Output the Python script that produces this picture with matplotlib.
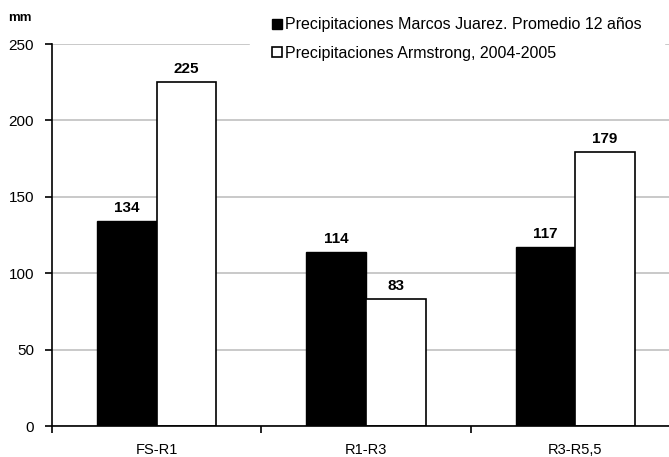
import numpy as np
import matplotlib
matplotlib.use("Agg")
import matplotlib.pyplot as plt
from matplotlib.patches import Patch

# datos
etapas = ["FS-R1", "R1-R3", "R3-R5,5"]
marcos_juarez = [134, 114, 117]
armstrong = [225, 83, 179]
serie_labels = ["Precipitaciones Marcos Juarez. Promedio 12 años",
                "Precipitaciones Armstrong, 2004-2005"]

plt.rcParams['font.family'] = ['Liberation Sans', 'DejaVu Sans']
plt.rcParams['font.size'] = 11

fig = plt.figure(figsize=(6.69, 4.57), dpi=100)
ax = fig.add_axes([52/669, 31/457, (680-52)/669, (426-44)/457])

x = np.arange(len(etapas))
w = 0.285
b1 = ax.bar(x - w/2, marcos_juarez, w, color="black", edgecolor="black", linewidth=1.0, zorder=3)
b2 = ax.bar(x + w/2, armstrong, w, color="white", edgecolor="black", linewidth=1.2, zorder=3)

for rects, vals in [(b1, marcos_juarez), (b2, armstrong)]:
    for r, v in zip(rects, vals):
        ax.text(r.get_x() + r.get_width()/2, v + 4, str(v), ha="center", va="bottom",
                fontweight="bold", fontsize=11)

ax.set_xlim(-0.5, 2.5)
ax.set_ylim(0, 250)
ax.set_yticks(np.arange(0, 251, 50))
ax.yaxis.grid(True, color="#c0c0c0", linewidth=1.2, zorder=0)
ax.set_axisbelow(True)

ax.set_xticks(x)
ax.set_xticklabels(etapas, fontsize=10.5)
ax.tick_params(axis="x", which="major", length=0, pad=12)
ax.set_xticks([-0.5, 0.5, 1.5, 2.5], minor=True)
ax.tick_params(axis="x", which="minor", length=5, width=1.2, direction="out")
ax.tick_params(axis="y", length=5, width=1.2, direction="out", pad=8)

for s in ["top", "right"]:
    ax.spines[s].set_visible(False)
ax.spines["left"].set_linewidth(1.2)
ax.spines["bottom"].set_linewidth(1.2)
ax.spines["bottom"].set_zorder(4)

fig.text(8/669, 1 - 18/457, "mm", fontweight="bold", fontsize=9.5, va="center")

handles = [Patch(facecolor="black", edgecolor="black"),
           Patch(facecolor="white", edgecolor="black", linewidth=1.2)]
leg = fig.legend(handles, serie_labels, loc="upper left", bbox_to_anchor=(242/669, 1 + 13/457),
                 frameon=True, framealpha=1, edgecolor="white", fancybox=False,
                 fontsize=11.5, handlelength=0.62, handleheight=0.62, handletextpad=0.2,
                 labelspacing=0.85, borderpad=1.4)

fig.savefig("out.png", dpi=100)
